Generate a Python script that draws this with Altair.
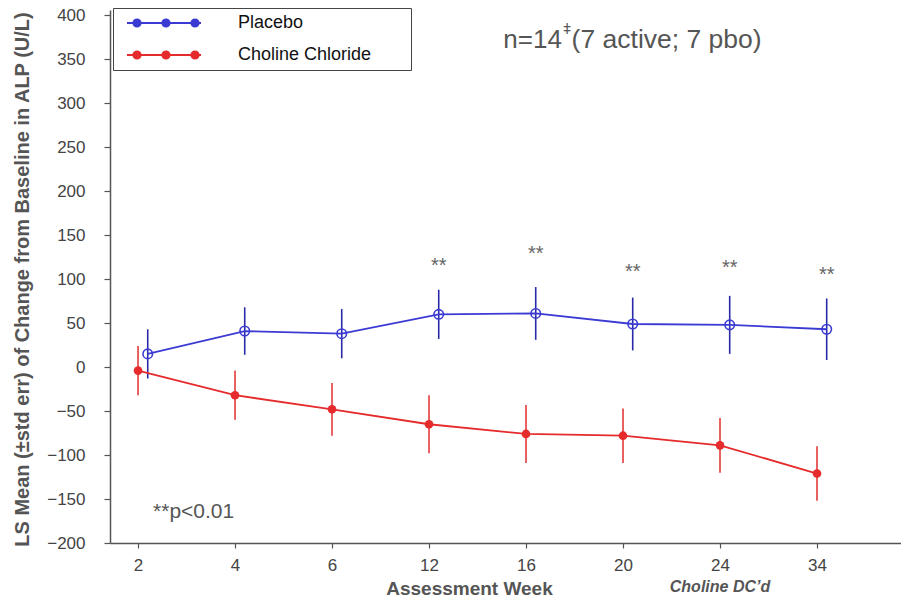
import math
import altair as alt
import pandas as pd

# ---------------- data ----------------
weeks = ["2", "4", "6", "12", "16", "20", "24", "34"]
series = ["Placebo", "Choline Chloride"]
placebo_mean = [15, 41, 38, 60, 61, 49, 48, 43]
placebo_se = [28, 27, 28, 28, 30, 30, 33, 35]
choline_mean = [-4, -32, -48, -65, -76, -78, -89, -121]
choline_se = [28, 28, 30, 33, 33, 31, 31, 31]

sig_idx = [3, 4, 5, 6, 7]
sig_y = [118, 132, 112, 116, 108]

BLUE = "#3b3bd4"
BLUE_ERR = "#2a2aa8"
RED = "#e52b2b"
RED_ERR = "#e33a3a"
FONT = "Liberation Sans"

rows = []
for i, w in enumerate(weeks):
    rows.append(dict(idx=i, week=w, series=series[0], mean=placebo_mean[i], se=placebo_se[i]))
    rows.append(dict(idx=i, week=w, series=series[1], mean=choline_mean[i], se=choline_se[i]))
df = pd.DataFrame(rows)

# ---------------- scales / axes ----------------
xs = alt.Scale(domain=[-0.289, 7.866], nice=False, zero=False)
ys = alt.Scale(domain=[-200, 406], nice=False, zero=False)

label_expr = "[" + ",".join("'%s'" % w for w in weeks) + "][datum.value]"
xaxis = alt.Axis(
    values=list(range(len(weeks))), labelExpr=label_expr, grid=False,
    domainColor="#555", domainWidth=1.5, tickColor="#555", tickSize=5, tickWidth=1.2,
    labelFontSize=17, labelColor="#444", labelFont=FONT, labelPadding=9,
    title="Assessment Week", titleFontSize=19, titleFontWeight="bold", titleColor="#555",
    titleFont=FONT, titleX=359, titleY=51, titleAlign="center", titleBaseline="alphabetic",
)
yaxis = alt.Axis(
    values=list(range(-200, 401, 50)), grid=False,
    domainColor="#555", domainWidth=1.5, tickColor="#555", tickSize=6, tickWidth=1.2,
    labelFontSize=17, labelColor="#444", labelFont=FONT, labelPadding=19,
    title="LS Mean (±std err) of Change from Baseline in ALP (U/L)", titleFontSize=20,
    titleFontWeight="bold", titleColor="#555", titleFont=FONT, titleAngle=270,
    titleX=-88, titleY=269, titleAlign="center", titleBaseline="middle",
)

X = alt.X("xpos:Q", scale=xs, axis=xaxis)
Y = alt.Y("mean:Q", scale=ys, axis=yaxis)

base = alt.Chart(df).transform_calculate(
    xpos="datum.idx + (datum.series == 'Placebo' ? 0.1 : 0)",
    lo="datum.mean - datum.se",
    hi="datum.mean + datum.se",
)
pbo = base.transform_filter(alt.datum.series == "Placebo")
cho = base.transform_filter(alt.datum.series == "Choline Chloride")

pbo_err = pbo.mark_rule(color=BLUE_ERR, strokeWidth=1.6).encode(x=X, y=alt.Y("lo:Q", scale=ys, axis=yaxis), y2="hi:Q")
cho_err = cho.mark_rule(color=RED_ERR, strokeWidth=1.6).encode(x=X, y=alt.Y("lo:Q", scale=ys, axis=yaxis), y2="hi:Q")
pbo_line = pbo.mark_line(color=BLUE, strokeWidth=1.8).encode(x=X, y=Y, order="idx:Q")
cho_line = cho.mark_line(color=RED, strokeWidth=1.8).encode(x=X, y=Y, order="idx:Q")
pbo_pt = pbo.mark_point(shape="circle", filled=False, size=90, strokeWidth=1.6, color=BLUE, opacity=1).encode(x=X, y=Y)
cho_pt = cho.mark_circle(size=75, color=RED, opacity=1).encode(x=X, y=Y)

# ---------------- legend (line with three dots) ----------------
def poly_circle(cx, r, n=16):
    pts = []
    for k in range(n):
        a = 2 * math.pi * k / n
        pts.append("%.3f,%.3f" % (cx + r * math.cos(a), r * math.sin(a)))
    return "M" + "L".join(pts) + "Z"

legend_path = "M-6,-0.17H6V0.17H-6Z" + "".join(poly_circle(c, 0.75) for c in (-4.38, 0.32, 5.03))

legend_layer = base.mark_point(filled=True, opacity=0).encode(
    x=X, y=Y,
    color=alt.Color(
        "series:N",
        scale=alt.Scale(domain=series, range=[BLUE, RED]),
        legend=alt.Legend(
            title=".", titleOpacity=0, titleOrient="right", titlePadding=28, titleFontSize=18,
            orient="none", legendX=3, legendY=-2, direction="vertical",
            symbolType=legend_path, symbolSize=152, symbolStrokeWidth=0, symbolOpacity=1,
            symbolOffset=36, labelOffset=65, labelFontSize=18, labelFont=FONT,
            labelColor="#111", labelLimit=400,
            padding=6, rowPadding=14,
            strokeColor="#444", fillColor="white",
        ),
    ),
)

# ---------------- annotations ----------------
sig_df = pd.DataFrame({"idx": sig_idx, "y": sig_y})
sig = alt.Chart(sig_df).transform_calculate(xpos="datum.idx + 0.1").mark_text(
    text="**", fontSize=20, font=FONT, color="#666", baseline="middle", dy=3
).encode(x=X, y=alt.Y("y:Q", scale=ys, axis=yaxis))

ann_text = ["n=14", "ǂ", "(7 active; 7 pbo)", "**p<0.01"]
ann_x = [4.37, 4.424, 4.47, 0.155]
ann_y = [371.5, 383, 371.5, -165]
ann_align = ["right", "center", "left", "left"]
ann_size = [26, 14, 26.5, 21]
ann_df = pd.DataFrame({"t": ann_text, "xpos": ann_x, "y": ann_y})

anns = []
for i in range(len(ann_text)):
    anns.append(
        alt.Chart(ann_df.iloc[[i]]).mark_text(
            align=ann_align[i], baseline="middle", fontSize=ann_size[i], font=FONT,
            color="#555",
        ).encode(x=X, y=alt.Y("y:Q", scale=ys, axis=yaxis), text="t:N")
    )

dc_df = pd.DataFrame({"t": ["Choline DC\u2019d"], "xpos": [6.0], "y": [-250.0]})
dc = alt.Chart(dc_df).mark_text(
    fontSize=16, font=FONT, fontStyle="italic", fontWeight="bold", color="#555",
    baseline="middle", clip=False,
).encode(x=X, y=alt.Y("y:Q", scale=ys, axis=yaxis), text="t:N")

chart = alt.layer(
    pbo_err, cho_err, pbo_line, cho_line, pbo_pt, cho_pt, legend_layer, sig, *anns, dc
).properties(
    width=791, height=533,
    autosize=alt.AutoSizeParams(type="none"),
    padding={"left": 102, "top": 2, "right": 0, "bottom": 55},
    background="white",
).configure_view(stroke=None)

chart.save("out.html", embed_options={"renderer": "svg", "actions": False})
